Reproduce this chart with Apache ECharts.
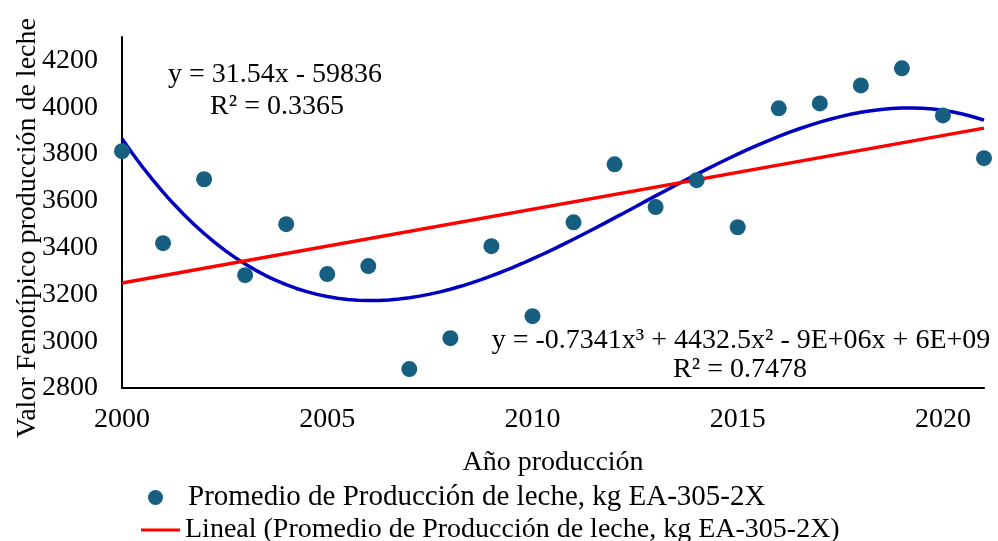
<!DOCTYPE html>
<html>
<head>
<meta charset="utf-8">
<script src="https://cdn.jsdelivr.net/npm/echarts@6/dist/echarts.min.js"></script>
<style>
html,body{margin:0;padding:0;background:#fff;}
#chart{width:998px;height:541px;}
</style>
</head>
<body>
<div id="chart"></div>
<script>
const years = [2000,2001,2002,2003,2004,2005,2006,2007,2008,2009,2010,2011,2012,2013,2014,2015,2016,2017,2018,2019,2020,2021];
const milk = [3812,3419,3692,3282,3500,3287,3321,2881,3013,3406,3107,3508,3756,3573,3688,3487,3995,4016,4093,4166,3965,3782];
const seriesName = 'Promedio de Producción de leche, kg EA-305-2X';
const linearName = 'Lineal (Promedio de Producción de leche, kg EA-305-2X)';
const linearEq = 'y = 31.54x - 59836';
const linearR2 = 'R² = 0.3365';
const cubicEq = 'y = -0.7341x³ + 4432.5x² - 9E+06x + 6E+09';
const cubicR2 = 'R² = 0.7478';
const xTitle = 'Año producción';
const yTitle = 'Valor Fenotípico producción de leche';

// least-squares polynomial trendline (like the spreadsheet's trendline)
function polyFit(xs, ys, deg) {
  const c = 2010.5;
  const n = deg + 1;
  const A = [];
  for (let i = 0; i < n; i++) { A.push(new Array(n + 1).fill(0)); }
  for (let k = 0; k < xs.length; k++) {
    const t = xs[k] - c;
    for (let i = 0; i < n; i++) {
      for (let j = 0; j < n; j++) A[i][j] += Math.pow(t, i + j);
      A[i][n] += ys[k] * Math.pow(t, i);
    }
  }
  for (let i = 0; i < n; i++) {
    let p = i;
    for (let r = i + 1; r < n; r++) if (Math.abs(A[r][i]) > Math.abs(A[p][i])) p = r;
    [A[i], A[p]] = [A[p], A[i]];
    for (let r = 0; r < n; r++) {
      if (r === i) continue;
      const f = A[r][i] / A[i][i];
      for (let j = i; j <= n; j++) A[r][j] -= f * A[i][j];
    }
  }
  const coef = A.map((row, i) => row[n] / row[i]);
  return x => { const t = x - c; let s = 0; for (let i = 0; i < n; i++) s += coef[i] * Math.pow(t, i); return s; };
}
const lin = polyFit(years, milk, 1);
const cub = polyFit(years, milk, 3);
const x0 = years[0], x1 = years[years.length - 1];
const linData = [[x0, lin(x0)], [x1, lin(x1)]];
const cubData = [];
for (let i = 0; i <= 84; i++) { const x = x0 + (x1 - x0) * i / 84; cubData.push([x, cub(x)]); }

const FONT = "'Liberation Serif','Times New Roman',serif";
const FS = 28;
const chart = echarts.init(document.getElementById('chart'), null, {renderer: 'canvas'});
chart.setOption({
  animation: false,
  backgroundColor: '#ffffff',
  textStyle: {fontFamily: FONT},
  grid: {left: 122, right: 14, top: 37, bottom: 153, containLabel: false},
  xAxis: {
    type: 'value', min: 2000, max: 2021, interval: 1,
    name: xTitle, nameLocation: 'middle', nameGap: 61,
    nameTextStyle: {fontFamily: FONT, fontSize: FS, color: '#000'},
    axisLine: {show: true, lineStyle: {color: '#000', width: 2}},
    axisTick: {show: false}, splitLine: {show: false},
    axisLabel: {fontFamily: FONT, fontSize: FS, color: '#000', margin: 18,
      formatter: v => (v % 5 === 0 ? String(v) : '')}
  },
  yAxis: {
    type: 'value', min: 2800, max: 4300, interval: 100,
    axisLine: {show: true, lineStyle: {color: '#000', width: 2}},
    axisTick: {show: false}, splitLine: {show: false},
    axisLabel: {fontFamily: FONT, fontSize: FS, color: '#000', margin: 24, padding: [5, 0, 0, 0],
      formatter: v => (v % 200 === 0 ? String(v) : '')}
  },
  legend: [
    {data: [seriesName], orient: 'vertical', left: 143, top: 478, itemWidth: 41, itemHeight: 15, itemGap: 0,
      textStyle: {fontFamily: FONT, fontSize: 29, color: '#000', padding: [0, 0, 0, 7]}},
    {data: [{name: linearName, icon: 'rect'}], orient: 'vertical', left: 136, top: 511, itemWidth: 39, itemHeight: 3, itemGap: 0,
      textStyle: {fontFamily: FONT, fontSize: 28, color: '#000'}}
  ],
  graphic: [
    {type: 'text', x: 28, y: 228, rotation: Math.PI / 2,
      style: {text: yTitle, fontFamily: FONT, fontSize: FS, fill: '#000', align: 'center', verticalAlign: 'middle'}},
    {type: 'text', x: 275, y: 75, style: {text: linearEq, fontFamily: FONT, fontSize: FS, fill: '#000', align: 'center', verticalAlign: 'middle'}},
    {type: 'text', x: 277, y: 107, style: {text: linearR2, fontFamily: FONT, fontSize: FS, fill: '#000', align: 'center', verticalAlign: 'middle'}},
    {type: 'text', x: 741, y: 341, style: {text: cubicEq, fontFamily: FONT, fontSize: FS, fill: '#000', align: 'center', verticalAlign: 'middle'}},
    {type: 'text', x: 740, y: 370, style: {text: cubicR2, fontFamily: FONT, fontSize: FS, fill: '#000', align: 'center', verticalAlign: 'middle'}}
  ],
  series: [
    {type: 'line', name: 'Polinómica', data: cubData, showSymbol: false, symbol: 'none', smooth: false,
      lineStyle: {color: '#0000c0', width: 3.5}, itemStyle: {color: '#0000c0'}, z: 2},
    {type: 'line', name: linearName, data: linData, showSymbol: false, symbol: 'none',
      lineStyle: {color: '#ff0000', width: 3.5}, itemStyle: {color: '#ff0000'}, z: 3},
    {type: 'scatter', name: seriesName, data: years.map((y, i) => [y, milk[i]]), symbol: 'circle', symbolSize: 16,
      itemStyle: {color: '#175f80', opacity: 1}, z: 4}
  ]
});
</script>
</body>
</html>
